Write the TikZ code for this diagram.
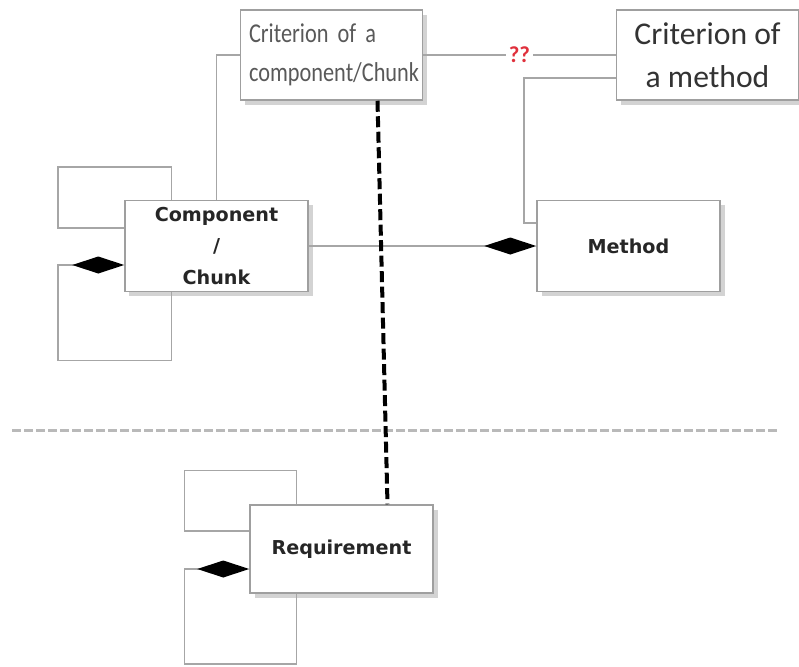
\documentclass[tikz,border=0pt]{standalone}
\usepackage{fontspec}
\usetikzlibrary{arrows.meta,calc,shadows}
\newfontfamily\critfont{Carlito}
\newfontfamily\critnarrow[FakeStretch=0.82, WordSpace=0.75]{Carlito}
\newfontfamily\classfont{DejaVu Sans}
\definecolor{qqred}{HTML}{E0303C}

\begin{document}
\begin{tikzpicture}[
    x=0.2mm, y=-0.2mm,
    every node/.style={inner sep=0pt, align=center},
    boxbase/.style={draw=gray!75, line width=0.3mm, fill=white,
        drop shadow={shadow xshift=0.9mm, shadow yshift=-0.9mm, opacity=0.35}},
    classbox/.style={boxbase, minimum width=36.6mm, minimum height=18.2mm,
        font=\classfont\bfseries\fontsize{10.9}{18}\selectfont, text=black!85},
    critbox/.style={boxbase, minimum width=36.4mm, minimum height=18mm},
    link/.style={draw=gray!70, line width=0.3mm},
    partof/.style={link, {Diamond[length=10.4mm, width=3.4mm, black]}-},
    groupline/.style={draw=gray!55, line width=0.6mm, dash pattern=on 1.8mm off 0.6mm},
    tracedash/.style={draw=black, line width=0.8mm, dash pattern=on 2.2mm off 0.9mm}
]
\useasboundingbox (0,0) rectangle (799,666);

\node[critbox, text width=33mm, align=left, text=black!65,
      font=\critnarrow\fontsize{15.5}{22}\selectfont] (critcomp) at (331.5,55)
      {Criterion of a\\component/Chunk};
\node[critbox, text=black!80, font=\critfont\fontsize{18}{24.5}\selectfont] (critmeth) at (707.5,55)
      {Criterion of\\a method};
\node[classbox] (comp) at (216.5,246) {Component\\/\\Chunk};
\node[classbox] (meth) at (628.5,246) {Method};
\node[classbox, minimum height=17.6mm] (req) at (341.5,549) {Requirement};

\coordinate (sepL) at (12,430);
\coordinate (sepR) at (778,430);
\draw[groupline] (sepL) -- (sepR);

\draw[link] (critcomp.west) -| (comp.north);
\draw[link] (critcomp.east) -- node[fill=white, inner xsep=0.6mm, inner ysep=0.4mm, text=qqred,
      font=\critfont\bfseries\fontsize{13}{13}\selectfont] (qq) {??} (critmeth.west);
\draw[link] ($(critmeth.west)+(0,23)$) -- ++(-92,0) |- ($(meth.west)+(0,-23)$);
\draw[partof] (meth.west) -- (comp.east);

\draw[link] ($(comp.west)+(0,-18)$) -- ++(-66,0) |- ($(comp.north west)+(47,-33)$) -- ($(comp.north west)+(47,0)$);
\draw[partof] ($(comp.west)+(0,19)$) -- ++(-66,0) |- ($(comp.south west)+(47,68)$) -- ($(comp.south west)+(47,0)$);

\draw[link] ($(req.west)+(0,-18)$) -- ++(-65,0) |- ($(req.north west)+(47,-34)$) -- ($(req.north west)+(47,0)$);
\draw[partof] ($(req.west)+(0,20)$) -- ++(-65,0) |- ($(req.south west)+(47,70)$) -- ($(req.south west)+(47,0)$);

\draw[tracedash] ($(critcomp.south)+(46,0)$) -- ($(req.north)+(46,0)$);
\end{tikzpicture}
\end{document}
